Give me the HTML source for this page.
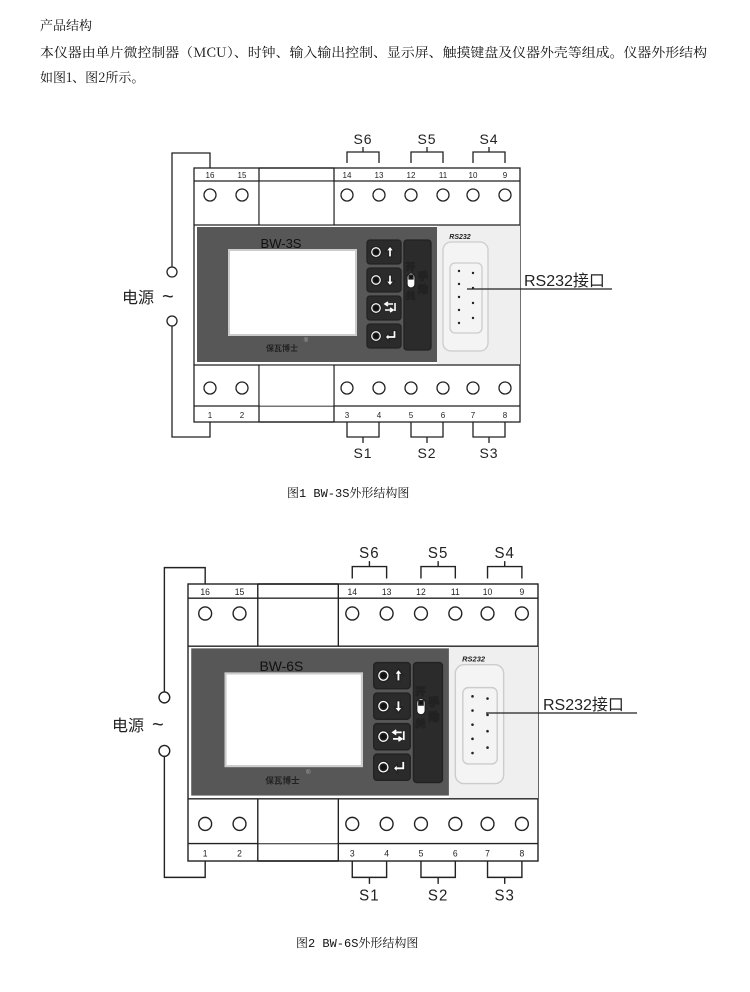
<!DOCTYPE html>
<html><head><meta charset="utf-8"><style>
html,body{margin:0;padding:0;background:#fff;}
svg{display:block;}
text{font-family:"Liberation Sans","Noto Sans CJK SC",sans-serif;}
.cj{font-family:"Noto Serif CJK SC","Liberation Serif",serif;}
.cap{font-family:"Liberation Mono","Noto Serif CJK SC",monospace;}
</style></head><body>
<svg width="750" height="992" viewBox="0 0 750 992" xmlns="http://www.w3.org/2000/svg">
<defs>
<g id="btns">
  <g><rect x="173" y="72" width="34" height="24" rx="3" fill="#2b2b2b"/><circle cx="182" cy="84" r="5.5" fill="#fff"/><circle cx="182" cy="84" r="3" fill="#111"/><path d="M196,78 l-4,5 h2.5 v6 h3 v-6 h2.5z" fill="#fff"/></g>
  <g><rect x="173" y="100" width="34" height="24" rx="3" fill="#2b2b2b"/><circle cx="182" cy="112" r="5.5" fill="#fff"/><circle cx="182" cy="112" r="3" fill="#111"/><path d="M196,118 l-4,-5 h2.5 v-6 h3 v6 h2.5z" fill="#fff"/></g>
  <g><rect x="173" y="128" width="34" height="24" rx="3" fill="#2b2b2b"/><circle cx="182" cy="140" r="5.5" fill="#fff"/><circle cx="182" cy="140" r="3" fill="#111"/><path d="M191,136 h8 M194,134 l-3,2 l3,2 M191,142 h8 M196,140 l3,2 l-3,2 M201,135 v8" stroke="#fff" stroke-width="1.6" fill="none"/></g>
  <g><rect x="173" y="156" width="34" height="24" rx="3" fill="#2b2b2b"/><circle cx="182" cy="168" r="5.5" fill="#fff"/><circle cx="182" cy="168" r="3" fill="#111"/><path d="M191,169 l4,-4 v2.5 h4 v-5 h3 v8 h-7 v2.5z" fill="#fff"/></g>
  <rect x="210" y="72" width="27" height="110" rx="3" fill="#2b2b2b"/>
  <text x="212" y="102" font-size="9" fill="#fff" font-weight="bold">开</text>
  <rect x="213" y="105" width="8" height="15" rx="4" fill="#fff"/><rect x="215" y="107" width="4" height="4" fill="#111"/>
  <text x="212" y="131" font-size="9" fill="#fff" font-weight="bold">关</text>
  <text x="224" y="112" font-size="10" fill="#fff" font-weight="bold">手</text>
  <text x="224" y="125" font-size="10" fill="#fff" font-weight="bold">动</text>
</g>
<g id="common" fill="none" stroke="#222" stroke-width="1.3">
  <rect x="0" y="0" width="326" height="254" fill="#fff"/>
  <rect x="243" y="57" width="83" height="140" fill="#efefef" stroke="none"/>
  <line x1="0" y1="13" x2="326" y2="13"/>
  <line x1="0" y1="57" x2="326" y2="57"/>
  <line x1="0" y1="197" x2="326" y2="197"/>
  <line x1="0" y1="238" x2="326" y2="238"/>
  <line x1="65" y1="0" x2="65" y2="57"/><line x1="140" y1="0" x2="140" y2="57"/>
  <line x1="65" y1="197" x2="65" y2="254"/><line x1="140" y1="197" x2="140" y2="254"/>
  <rect x="65.7" y="13.7" width="73.6" height="42.6" fill="#fff" stroke="none"/>
  <rect x="65.7" y="197.7" width="73.6" height="40" fill="#fff" stroke="none"/>
  <line x1="65" y1="0" x2="140" y2="0"/><line x1="65" y1="254" x2="140" y2="254"/>
  <g>
   <circle cx="16" cy="27" r="6"/><circle cx="48" cy="27" r="6"/><circle cx="153" cy="27" r="6"/><circle cx="185" cy="27" r="6"/><circle cx="217" cy="27" r="6"/><circle cx="249" cy="27" r="6"/><circle cx="279" cy="27" r="6"/><circle cx="311" cy="27" r="6"/>
   <circle cx="16" cy="220" r="6"/><circle cx="48" cy="220" r="6"/><circle cx="153" cy="220" r="6"/><circle cx="185" cy="220" r="6"/><circle cx="217" cy="220" r="6"/><circle cx="249" cy="220" r="6"/><circle cx="279" cy="220" r="6"/><circle cx="311" cy="220" r="6"/>
  </g>
  <rect x="3" y="59" width="240" height="135" fill="#575757" stroke="none"/>
  <rect x="35" y="82" width="127" height="85" fill="#fff" stroke="#ccc" stroke-width="2"/>
  <rect x="249" y="74" width="45" height="109" rx="8" stroke="#ccc" fill="#f4f4f4"/>
  <rect x="256" y="95" width="32" height="70" rx="5" stroke="#ccc" fill="#f4f4f4"/>
  <g fill="#222" stroke="none">
   <circle cx="265" cy="103" r="1.2"/><circle cx="265" cy="116" r="1.2"/><circle cx="265" cy="129" r="1.2"/><circle cx="265" cy="142" r="1.2"/><circle cx="265" cy="155" r="1.2"/>
   <circle cx="279" cy="105" r="1.2"/><circle cx="279" cy="120" r="1.2"/><circle cx="279" cy="135" r="1.2"/><circle cx="279" cy="150" r="1.2"/>
  </g>
  <path d="M153,-5 V-16 H185 V-5 M169,-16 V-21 M217,-5 V-16 H249 V-5 M233,-16 V-21 M279,-5 V-16 H311 V-5 M295,-16 V-21"/>
  <path d="M153,254 V269 H185 V254 M169,269 V275 M217,254 V269 H249 V254 M233,269 V275 M279,254 V269 H311 V254 M295,269 V275"/>
  <path d="M16,0 V-15 H-22 V99 M-22,158 V269 H16 V254"/>
  <circle cx="-22" cy="104" r="5" fill="#fff"/><circle cx="-22" cy="153" r="5" fill="#fff"/>
  <g fill="#222" stroke="none" font-size="8" text-anchor="middle">
   <text x="16" y="10">16</text><text x="48" y="10">15</text><text x="153" y="10">14</text><text x="185" y="10">13</text><text x="217" y="10">12</text><text x="249" y="10">11</text><text x="279" y="10">10</text><text x="311" y="10">9</text>
   <text x="16" y="250">1</text><text x="48" y="250">2</text><text x="153" y="250">3</text><text x="185" y="250">4</text><text x="217" y="250">5</text><text x="249" y="250">6</text><text x="279" y="250">7</text><text x="311" y="250">8</text>
   <g font-size="14" letter-spacing="1"><text x="169" y="-24">S6</text><text x="233" y="-24">S5</text><text x="295" y="-24">S4</text>
   <text x="169" y="290">S1</text><text x="233" y="290">S2</text><text x="295" y="290">S3</text></g>
   <text x="266" y="71" font-size="7" font-style="italic" font-weight="bold">RS232</text>
   <text x="88" y="183" font-size="8" font-weight="bold">保瓦博士</text>
   <text x="112" y="174" font-size="6" fill="#aaa">®</text>
  </g>
  <use href="#btns"/>
</g>
</defs>

<g fill="#111" font-size="13">
<text x="40" y="30" class="cj">产品结构</text>
<text x="40" y="57" textLength="667" lengthAdjust="spacingAndGlyphs" class="cj">本仪器由单片微控制器（MCU）、时钟、输入输出控制、显示屏、触摸键盘及仪器外壳等组成。仪器外形结构</text>
<text x="40" y="82" class="cj">如图1、图2所示。</text>
</g>

<g transform="translate(194,168)">
 <use href="#common"/>
 <text x="87" y="80" font-size="13" fill="#111" text-anchor="middle">BW-3S</text>
</g>
<text x="122" y="303" font-size="16" fill="#222">电源</text><text x="162" y="303" font-size="20" fill="#222">~</text>
<line x1="467" y1="289" x2="612" y2="289" stroke="#222" stroke-width="1.3"/>
<text x="524" y="286" font-size="16" fill="#222">RS232接口</text>
<text x="287" y="497" font-size="12" fill="#111" class="cap">图1  BW-3S外形结构图</text>

<g transform="translate(188,584) scale(1.0736,1.0906)">
 <use href="#common"/>
 <text x="87" y="80" font-size="13" fill="#111" text-anchor="middle">BW-6S</text>
</g>
<text x="112" y="731" font-size="16" fill="#222">电源</text><text x="152" y="731" font-size="20" fill="#222">~</text>
<line x1="486" y1="713" x2="637" y2="713" stroke="#222" stroke-width="1.3"/>
<text x="543" y="710" font-size="16" fill="#222">RS232接口</text>
<text x="296" y="947" font-size="12" fill="#111" class="cap">图2  BW-6S外形结构图</text>
</svg>
</body></html>
